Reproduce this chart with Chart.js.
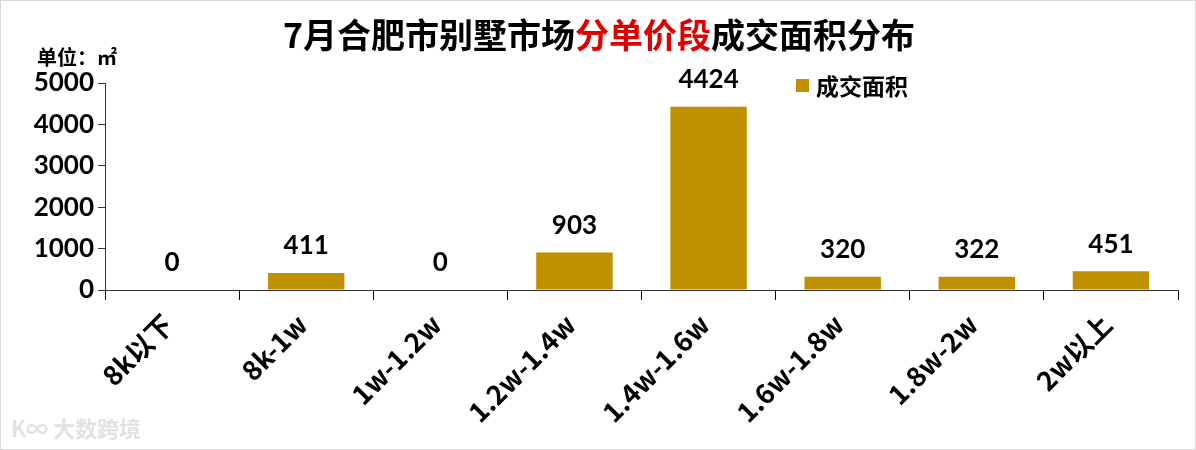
<!DOCTYPE html>
<html>
<head>
<meta charset="utf-8">
<script src="https://cdn.jsdelivr.net/npm/chart.js@4"></script>
<style>
	html, body { margin: 0; padding: 0; background: #fff; }
	#wrap { width: 1196px; height: 450px; position: relative; box-sizing: border-box; border: 1px solid #d9d9d9; }
</style>
</head>
<body>
<div id="wrap"><canvas id="areaChart"></canvas></div>
<script>
const categorie = ['8k以下', '8k-1w', '1w-1.2w', '1.2w-1.4w', '1.4w-1.6w', '1.6w-1.8w', '1.8w-2w', '2w以上'];
const areaValues = [0, 411, 0, 903, 4424, 320, 322, 451];
const yTicks = [0, 1000, 2000, 3000, 4000, 5000];
const serieNome = '成交面积';
const titoloNero1 = '7月合肥市别墅市场';
const titoloRosso = '分单价段';
const titoloNero2 = '成交面积分布';
const unita = '单位：㎡';

const FONT = 'Lato, "Noto Sans CJK SC", sans-serif';
const FONT_CJK = '"Noto Sans CJK SC", sans-serif';
const ORO = '#BF9000';

// titolo bicolore, unità, legenda e filigrana
const decorazioni = {
	id: 'decorazioni',
	afterDraw(chart) {
		const ctx = chart.ctx;
		ctx.save();
		ctx.textBaseline = 'middle';
		ctx.font = `bold 34px ${FONT_CJK}`;
		const w1 = ctx.measureText(titoloNero1).width;
		const w2 = ctx.measureText(titoloRosso).width;
		const w3 = ctx.measureText(titoloNero2).width;
		let x = 598 - (w1 + w2 + w3) / 2;
		ctx.textAlign = 'left';
		ctx.fillStyle = '#000';
		ctx.fillText(titoloNero1, x, 34);
		x += w1;
		ctx.fillStyle = '#E00000';
		ctx.fillText(titoloRosso, x, 34);
		x += w2;
		ctx.fillStyle = '#000';
		ctx.fillText(titoloNero2, x, 34);

		ctx.font = `bold 20px ${FONT_CJK}`;
		ctx.fillText(unita, 36, 56);

		ctx.fillStyle = ORO;
		ctx.fillRect(795, 78, 13, 13);
		ctx.fillStyle = '#000';
		ctx.font = `bold 23px ${FONT_CJK}`;
		ctx.fillText(serieNome, 815, 85);

		ctx.font = `bold 22px ${FONT_CJK}`;
		ctx.fillStyle = '#e2e2e2';
		ctx.fillText('K∞ 大数跨境', 10, 428);

		// etichette valori
		const meta = chart.getDatasetMeta(0);
		ctx.font = `bold 26px ${FONT}`;
		ctx.fillStyle = '#000';
		ctx.textAlign = 'center';
		ctx.textBaseline = 'bottom';
		meta.data.forEach((bar, i) => {
			ctx.fillText(String(areaValues[i]), bar.x, bar.y - 14);
		});
		ctx.restore();
	}
};

const ctx = document.getElementById('areaChart').getContext('2d');
new Chart(ctx, {
	type: 'bar',
	data: {
		labels: categorie,
		datasets: [{
			label: serieNome,
			data: areaValues,
			backgroundColor: ORO,
			categoryPercentage: 1,
			barPercentage: 0.57
		}]
	},
	options: {
		responsive: true,
		maintainAspectRatio: false,
		animation: false,
		layout: { padding: { top: 82, right: 17, left: 0, bottom: 0 } },
		plugins: {
			legend: { display: false },
			tooltip: { enabled: false }
		},
		scales: {
			x: {
				afterFit(scale) {
					scale.height = 159;
				},
				grid: { drawOnChartArea: false, offset: true, color: '#000', tickLength: 10 },
				border: { color: '#333', width: 1 },
				ticks: {
					color: '#000',
					font: { family: FONT_CJK, size: 27, weight: 'bold' },
					minRotation: 45,
					maxRotation: 45,
					padding: 8,
					labelOffset: -4
				}
			},
			y: {
				min: 0,
				max: 5000,
				afterBuildTicks(scale) {
					scale.ticks = yTicks.map((v) => ({ value: v }));
				},
				afterFit(scale) {
					scale.width = 104;
				},
				grid: { drawOnChartArea: false, color: '#333', tickLength: 7 },
				border: { color: '#333', width: 1 },
				ticks: {
					color: '#000',
					font: { family: FONT, size: 26, weight: 'bold' },
					padding: 4,
					callback: (v) => String(v)
				}
			}
		}
	},
	plugins: [decorazioni]
});
</script>
</body>
</html>
